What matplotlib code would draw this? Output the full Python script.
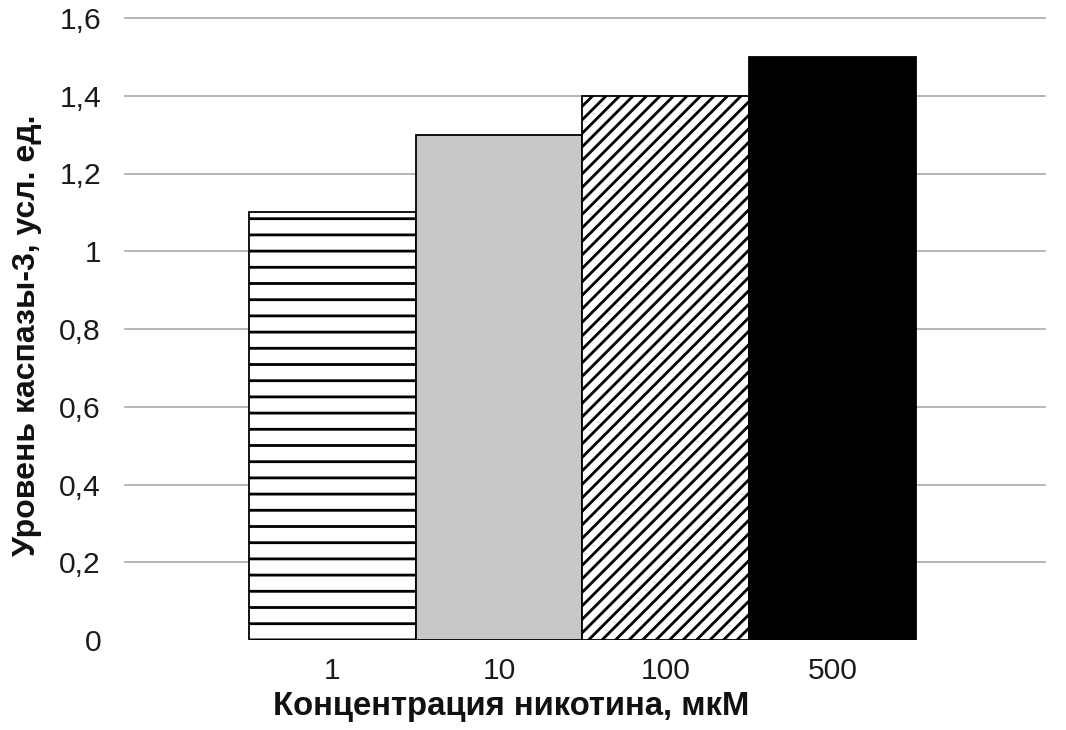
import matplotlib
matplotlib.use("Agg")
import matplotlib.pyplot as plt

# ---- data ----
categories = ["1", "10", "100", "500"]
values = [1.1, 1.3, 1.4, 1.5]
yticks = [0, 0.2, 0.4, 0.6, 0.8, 1.0, 1.2, 1.4, 1.6]
ytick_labels = ["0", "0,2", "0,4", "0,6", "0,8", "1", "1,2", "1,4", "1,6"]
xlabel = "Концентрация никотина, мкМ"
ylabel = "Уровень каспазы-3, усл. ед."

# ---- styles ----
facecolors = ["white", "#c8c8c8", "white", "black"]
hatches = ["-" * 5, None, "/" * 12, None]

W, H = 1066, 730
DPI = 486
PT = 72.0 / DPI  # points per pixel

plt.rcParams["font.family"] = ["Liberation Sans", "DejaVu Sans"]
plt.rcParams["hatch.linewidth"] = 2.8 * PT

fig = plt.figure(figsize=(W / DPI, H / DPI), dpi=DPI)
fig.patch.set_facecolor("white")
ax = fig.add_axes([125 / W, (H - 640) / H, 920 / W, 622 / H])

x = list(range(len(categories)))
for xi, v, fc, h in zip(x, values, facecolors, hatches):
    ax.bar(xi, v, width=1.0, color=fc, edgecolor="black",
           linewidth=1.8 * PT, hatch=h, zorder=3)

ax.set_xlim(-1.24, 4.27)
ax.set_ylim(0, 1.6)
ax.set_yticks(yticks)
ax.set_yticklabels(ytick_labels)
ax.set_xticks(x)
ax.set_xticklabels(categories)

for s in ax.spines.values():
    s.set_visible(False)

ax.yaxis.grid(True, color="#a6a6a6", linewidth=1.6 * PT, zorder=0)
ax.set_axisbelow(True)
gl = ax.get_ygridlines()
gl[0].set_visible(False)
for g in gl:
    g.set_clip_on(False)

ax.tick_params(axis="both", length=0, labelsize=30 * PT, colors="#1a1a1a")
ax.tick_params(axis="y", pad=24 * PT)
ax.tick_params(axis="x", pad=17 * PT)

ax.set_xlabel(xlabel, fontsize=33 * PT, fontweight="bold", color="#111111")
ax.set_ylabel(ylabel, fontsize=32 * PT, fontweight="bold", color="#111111")
ax.xaxis.set_label_coords((511 - 125) / 920, -(706 - 640) / 622)
ax.yaxis.set_label_coords(-(125 - 27) / 920, (640 - 335) / 622)
ax.xaxis.label.set_va("center")
ax.yaxis.label.set_va("center")

fig.savefig("out.png", dpi=DPI, facecolor="white")
